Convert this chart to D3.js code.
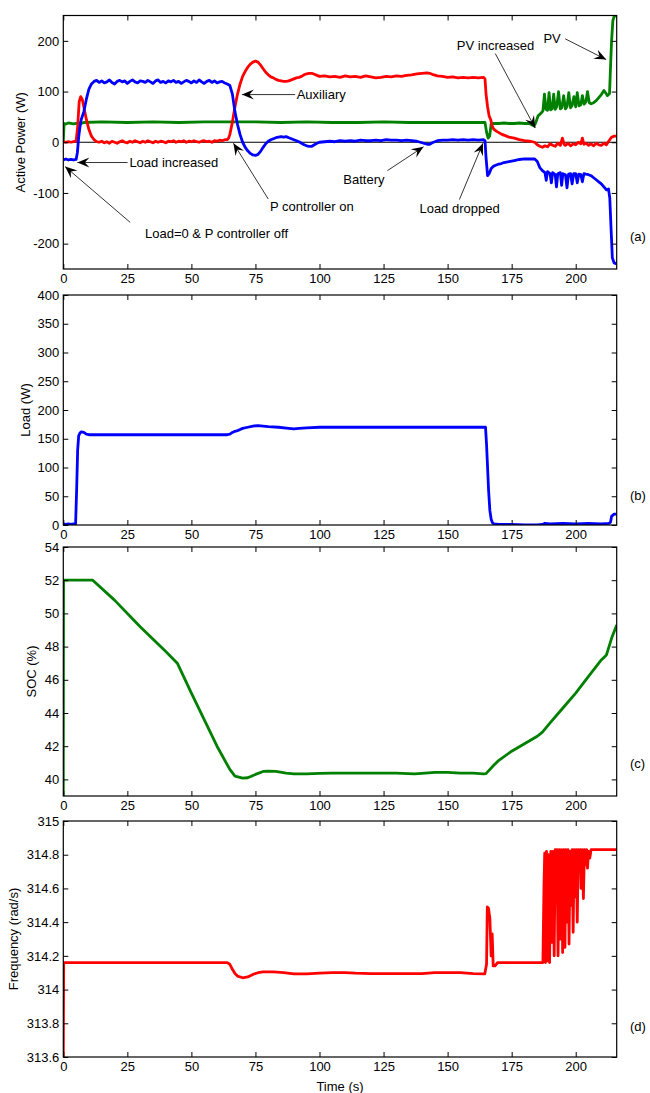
<!DOCTYPE html>
<html>
<head>
<meta charset="utf-8">
<script src="https://cdn.jsdelivr.net/npm/d3@7"></script>
<style>
  body { margin: 0; background: #fff; }
  text { font-family: "Liberation Sans", Arial, sans-serif; font-size: 13px; fill: #000; }
</style>
</head>
<body>
<script>
const width = 650, height = 1093;

// time ticks shared by all panels
const timeTicks = [0, 25, 50, 75, 100, 125, 150, 175, 200];

// (a) active power, [time s, W]
const batteryPower = [[0,-35],[1,-33],[2,-35],[3,-34],[4,-35],[5,-34],[5.5,-20],[6,10],[6.5,30],[7,45],[8,60],[9,85],[10,105],[11,115],[12,120],[13,122],[14,118],[15,121],[16,117],[17,119],[18,123],[19,118],[20,115],[21,120],[22,122],[23,119],[24,121],[25,116],[26,120],[27,123],[28,119],[29,117],[30,121],[31,120],[32,118],[33,122],[34,119],[35,116],[36,121],[37,123],[38,118],[39,120],[40,117],[41,121],[42,119],[43,122],[44,118],[45,120],[46,116],[47,119],[48,122],[49,120],[50,117],[51,121],[52,118],[53,123],[54,119],[55,116],[56,120],[57,122],[58,118],[59,121],[60,117],[61,119],[62,120],[63,117],[64,115],[65,112],[66,95],[67,60],[68,35],[69,15],[70,0],[71,-10],[72,-17],[73,-22],[74,-25],[75,-26],[76,-24],[77,-18],[78,-10],[79,-3],[80,2],[81,5],[82,7],[83,9],[84,10],[85,11],[86,10],[87,11],[88,9],[89,7],[90,5],[91,3],[92,1],[93,-2],[94,-5],[95,-7],[96,-8],[97,-8],[98,-5],[99,-2],[100,0],[102,1],[104,2],[106,1],[108,3],[110,2],[112,3],[114,2],[116,4],[118,3],[120,3],[122,4],[124,3],[126,5],[128,4],[130,4],[132,3],[134,4],[136,3],[138,2],[140,-1],[142,-4],[143,-4],[144,-1],[146,3],[148,4],[150,4],[152,5],[154,4],[156,5],[158,4],[160,5],[162,4],[164,5],[164.6,3],[165,-30],[165.6,-66],[166.2,-62],[167,-52],[168,-47],[169,-45],[170,-43],[171,-42],[172,-40],[174,-38],[176,-36],[178,-34],[180,-33],[182,-33],[184,-33],[185,-38],[186,-50],[187,-56],[188,-60],[188.5,-75],[189,-58],[190,-62],[190.5,-80],[191,-60],[192,-64],[192.5,-88],[193,-62],[194,-60],[194.5,-85],[195,-62],[196,-64],[196.6,-90],[197.2,-63],[198,-62],[198.6,-82],[199.2,-62],[200,-62],[200.6,-80],[201.2,-63],[202,-64],[202.6,-78],[203.2,-62],[204,-63],[205,-64],[206,-66],[207,-70],[208,-74],[209,-78],[210,-82],[211,-88],[212,-94],[212.8,-92],[213.3,-110],[213.8,-170],[214.3,-228],[215,-238],[216,-240]];

const auxiliaryPower = [[0,1],[1,0],[2,1],[3,0],[4,1],[5,2],[5.6,30],[6.2,80],[6.8,90],[7.4,85],[8,70],[9,45],[10,25],[11,12],[12,5],[13,1],[14,0],[15,2],[16,-1],[17,1],[18,-2],[19,2],[20,0],[21,-2],[22,1],[23,3],[24,0],[25,-1],[26,2],[27,0],[28,3],[29,1],[30,-1],[31,2],[32,0],[33,3],[34,1],[35,-1],[36,2],[37,0],[38,2],[39,1],[40,-1],[41,2],[42,1],[43,3],[44,0],[45,2],[46,1],[47,3],[48,0],[49,2],[50,1],[51,3],[52,1],[53,0],[54,2],[55,3],[56,1],[57,2],[58,0],[59,3],[60,2],[61,4],[62,3],[63,5],[64,5],[64.5,8],[65,15],[66,40],[67,70],[68,95],[69,115],[70,130],[71,140],[72,148],[73,154],[74,158],[75,160],[76,158],[77,152],[78,145],[79,138],[80,133],[81,129],[82,127],[83,124],[84,122],[85,121],[86,120],[87,120],[88,121],[89,123],[90,125],[91,127],[92,128],[93,130],[94,133],[95,135],[96,136],[97,136],[98,134],[99,132],[100,130],[102,131],[104,129],[106,130],[108,128],[110,131],[112,129],[114,130],[116,128],[118,131],[120,129],[122,127],[124,128],[126,130],[128,129],[130,131],[132,130],[134,132],[136,133],[138,135],[140,136],[142,137],[143,136],[144,134],[146,131],[148,130],[150,128],[152,129],[154,127],[156,128],[158,127],[160,128],[162,127],[164,128],[164.6,125],[165,95],[165.6,70],[166.2,52],[166.8,45],[167.4,32],[168,26],[169,22],[170,19],[171,16],[172,14],[173,12],[174,10],[176,8],[178,5],[180,3],[182,2],[184,0],[185,-5],[186,-8],[187,-10],[188,-7],[189,-9],[190,-3],[191,-6],[192,-8],[193,-2],[194,-6],[194.8,8],[195.5,-4],[196,-6],[197,-2],[198,-7],[199,-3],[200,-5],[201,0],[202,-3],[202.6,8],[203.2,-4],[204,-2],[205,-6],[206,-3],[207,-7],[208,-2],[209,-5],[210,-6],[211,-2],[212,-5],[213,3],[214,10],[215,12],[216,12]];

const pvPower = [[0,0],[0.3,37],[1,36],[2,38],[3,37],[4,36],[5,37],[6,38],[7,37],[8,39],[15,40],[25,39],[35,40],[45,39],[55,40],[65,40],[75,40],[85,39],[95,40],[105,39],[115,39],[125,40],[135,39],[145,39],[155,39],[164.6,39],[165.2,20],[165.8,8],[166.4,12],[167,36],[168,37],[170,37],[172,38],[174,37],[176,37],[178,38],[180,37],[182,37],[183,34],[183.8,32],[184.5,40],[185.3,52],[186,55],[186.6,58],[187.2,62],[187.8,95],[188.4,65],[189,63],[189.6,98],[190.2,64],[190.8,66],[191.4,95],[192,65],[192.6,70],[193.3,100],[194,66],[194.6,68],[195.3,92],[196,66],[196.6,70],[197.3,98],[198,68],[198.6,72],[199.3,90],[200,70],[200.6,98],[201.3,72],[202,74],[202.6,92],[203.3,75],[204,80],[204.6,100],[205.3,78],[206,76],[207,78],[208,82],[209,88],[210,94],[211,102],[211.6,98],[212.4,92],[213.2,96],[213.6,150],[214,200],[214.5,240],[215,248],[216,250]];

// (b) load, W
const loadPower = [[0,2],[1,1],[2,2],[3,1],[4,2],[4.8,2],[5.2,60],[5.6,130],[6,155],[6.5,160],[7,162],[8,161],[9,158],[10,157],[20,157],[30,157],[40,157],[50,157],[60,157],[64,157],[65,158],[66,161],[67,163],[68,164],[69,166],[70,168],[72,170],[74,172],[76,173],[78,172],[80,171],[84,170],[88,168],[90,167],[92,168],[95,169],[100,170],[110,170],[120,170],[130,170],[140,170],[150,170],[160,170],[164.8,170],[165.2,140],[165.6,100],[166,60],[166.5,25],[167,10],[167.5,4],[168,2],[170,1],[175,1],[180,0],[185,0],[187,1],[188,3],[190,2],[195,3],[200,2],[205,3],[210,2],[213,3],[213.6,5],[214,15],[215,19],[216,19]];

// (c) state of charge, %
const soc = [[0,39],[0.1,52],[11.5,52],[20,50.8],[30,49.2],[40,47.7],[44.5,47],[50,45.2],[55,43.6],[60,42],[65,40.6],[67,40.2],[70,40.08],[72,40.1],[75,40.3],[78,40.48],[80,40.5],[83,40.48],[87,40.38],[90,40.33],[95,40.33],[100,40.36],[105,40.38],[120,40.38],[130,40.38],[137,40.33],[140,40.36],[145,40.42],[150,40.42],[155,40.38],[160,40.38],[164,40.33],[165,40.35],[168,40.85],[170,41.15],[175,41.7],[180,42.15],[185,42.6],[187,42.85],[190,43.4],[195,44.3],[200,45.2],[205,46.2],[210,47.2],[212,47.5],[214,48.5],[216,49.3]];

// (d) frequency, rad/s
const frequency = [[0,313.6],[0.15,314.16],[64,314.16],[65,314.15],[66,314.12],[67,314.095],[68,314.08],[70,314.07],[72,314.075],[74,314.09],[76,314.1],[78,314.105],[82,314.105],[86,314.1],[90,314.093],[95,314.093],[100,314.097],[105,314.1],[110,314.1],[114,314.097],[120,314.095],[140,314.095],[145,314.1],[155,314.1],[160,314.095],[164.5,314.093],[165.2,314.15],[165.5,314.49],[166,314.48],[166.5,314.42],[167,314.2],[167.4,314.33],[167.8,314.14],[168.5,314.14],[169.5,314.16],[187.2,314.16],[187.6,314.6],[187.9,314.81],[188.2,314.16],[188.6,314.82],[189,314.17],[189.4,314.8],[189.8,314.16],[190.3,314.82],[190.7,314.28],[191.1,314.82],[191.6,314.2],[192,314.83],[192.3,314.62],[192.7,314.83],[193.1,314.2],[193.6,314.83],[194,314.3],[194.5,314.83],[194.9,314.22],[195.4,314.83],[195.8,314.25],[196.2,314.83],[196.6,314.4],[197,314.83],[197.4,314.27],[197.8,314.82],[198.2,314.5],[198.6,314.83],[199,314.34],[199.4,314.83],[199.8,314.55],[200.2,314.83],[200.6,314.4],[201,314.83],[201.4,314.7],[201.8,314.83],[202.1,314.6],[202.5,314.83],[203,314.54],[203.4,314.83],[203.9,314.74],[204.3,314.83],[204.6,314.72],[205,314.82],[205.5,314.78],[206,314.83],[216,314.83]];

// annotations in panel (a): text anchor and arrow tail/head in data units
const notes = [
  {text: "Load=0 & P controller off", at: [31.9, -180], from: [26.1, -158], to: [0.7, -48]},
  {text: "Load increased", at: [25.8, -40], from: [25.1, -40], to: [5.5, -40]},
  {text: "Auxiliary", at: [91.1, 94], from: [90.5, 94], to: [69.7, 94]},
  {text: "P controller on", at: [80.7, -127], from: [80, -112], to: [66.4, -2]},
  {text: "Battery", at: [109.3, -73], from: [126.5, -56], to: [140.6, -9]},
  {text: "Load dropped", at: [139, -130], from: [154.6, -113], to: [163.8, -2]},
  {text: "PV increased", at: [153.6, 191], from: [168.6, 175], to: [184.2, 28]},
  {text: "PV", at: [187.4, 204], from: [195.9, 204], to: [211.9, 163]}
];

const panels = [
  {tag: "(a)", label: "Active Power (W)", top: 15.5, bottom: 269, domain: [-250, 250], ticks: [-200, -100, 0, 100, 200], labelX: 20,
   series: [{data: pvPower, color: "#008000"}, {data: auxiliaryPower, color: "#ff0000"}, {data: batteryPower, color: "#0000ff"}], zero: true},
  {tag: "(b)", label: "Load (W)", top: 295, bottom: 525, domain: [0, 400], ticks: d3.range(0, 401, 50), labelX: 25,
   series: [{data: loadPower, color: "#0000ff"}]},
  {tag: "(c)", label: "SOC (%)", top: 547, bottom: 796, domain: [39, 54], ticks: d3.range(40, 55, 2), labelX: 31,
   series: [{data: soc, color: "#008000"}]},
  {tag: "(d)", label: "Frequency (rad/s)", top: 821, bottom: 1057, domain: [313.6, 315], ticks: [313.6, 313.8, 314, 314.2, 314.4, 314.6, 314.8, 315], labelX: 13,
   series: [{data: frequency, color: "#ff0000"}]}
];

const left = 63.3, right = 616.7;
const x = d3.scaleLinear().domain([0, 216]).range([left, right]);

const svg = d3.select("body").append("svg")
  .attr("width", width)
  .attr("height", height);

svg.append("rect").attr("width", width).attr("height", height).attr("fill", "#fff");

svg.append("defs").append("marker")
  .attr("id", "head")
  .attr("markerUnits", "userSpaceOnUse")
  .attr("markerWidth", 14).attr("markerHeight", 12)
  .attr("viewBox", "-13 -6 14 12")
  .attr("refX", 0).attr("refY", 0)
  .attr("orient", "auto")
  .append("path")
  .attr("d", "M0,0 L-12,-5 L-7.5,0 L-12,5 Z")
  .attr("fill", "#000");

panels.forEach((p, i) => {
  const y = d3.scaleLinear().domain(p.domain).range([p.bottom, p.top]);
  const g = svg.append("g");
  const fmt = d => String(+d.toFixed(1));

  g.append("clipPath").attr("id", "clip" + i)
    .append("rect").attr("x", left).attr("y", p.top).attr("width", right - left).attr("height", p.bottom - p.top);

  if (p.zero) {
    g.append("line")
      .attr("x1", left).attr("x2", right)
      .attr("y1", y(0)).attr("y2", y(0))
      .attr("stroke", "#000").attr("stroke-width", 1);
  }

  const line = d3.line().x(d => x(d[0])).y(d => y(d[1]));
  p.series.forEach(s => {
    g.append("path")
      .datum(s.data)
      .attr("clip-path", `url(#clip${i})`)
      .attr("d", line)
      .attr("fill", "none")
      .attr("stroke", s.color)
      .attr("stroke-width", 2.8)
      .attr("stroke-linejoin", "round");
  });

  // axes, MATLAB style: ticks inside on all four sides
  const ax = [
    g.append("g").attr("transform", `translate(0,${p.bottom})`)
      .call(d3.axisBottom(x).tickValues(timeTicks).tickSize(-5).tickSizeOuter(0).tickPadding(5)),
    g.append("g").attr("transform", `translate(0,${p.top})`)
      .call(d3.axisTop(x).tickValues(timeTicks).tickSize(-5).tickSizeOuter(0).tickFormat("")),
    g.append("g").attr("transform", `translate(${left},0)`)
      .call(d3.axisLeft(y).tickValues(p.ticks).tickSize(-5).tickSizeOuter(0).tickPadding(4).tickFormat(fmt)),
    g.append("g").attr("transform", `translate(${right},0)`)
      .call(d3.axisRight(y).tickValues(p.ticks).tickSize(-5).tickSizeOuter(0).tickFormat(""))
  ];
  ax.forEach(a => {
    a.selectAll("text").attr("font-size", 13).attr("font-family", null).attr("fill", "#000");
    a.select(".domain").remove();
    a.selectAll("line").attr("stroke", "#000");
  });

  g.append("rect")
    .attr("x", left).attr("y", p.top)
    .attr("width", right - left).attr("height", p.bottom - p.top)
    .attr("fill", "none").attr("stroke", "#000").attr("stroke-width", 1.2);

  g.append("text")
    .attr("transform", `translate(${p.labelX},${(p.top + p.bottom) / 2}) rotate(-90)`)
    .attr("text-anchor", "middle")
    .attr("dy", "0.35em")
    .text(p.label);

  g.append("text")
    .attr("x", 630)
    .attr("y", p.top + (p.bottom - p.top) * 0.87)
    .attr("dy", "0.35em")
    .text(p.tag);

  if (i === 0) {
    const ann = g.append("g");
    ann.selectAll("line")
      .data(notes)
      .enter().append("line")
      .attr("x1", d => x(d.from[0])).attr("y1", d => y(d.from[1]))
      .attr("x2", d => x(d.to[0])).attr("y2", d => y(d.to[1]))
      .attr("stroke", "#000").attr("stroke-width", 0.8)
      .attr("marker-end", "url(#head)");
    ann.selectAll("text")
      .data(notes)
      .enter().append("text")
      .attr("x", d => x(d.at[0])).attr("y", d => y(d.at[1]))
      .attr("dy", "0.35em")
      .text(d => d.text);
  }
});

svg.append("text")
  .attr("x", (left + right) / 2)
  .attr("y", 1086)
  .attr("dy", "0.35em")
  .attr("text-anchor", "middle")
  .text("Time (s)");
</script>
</body>
</html>
